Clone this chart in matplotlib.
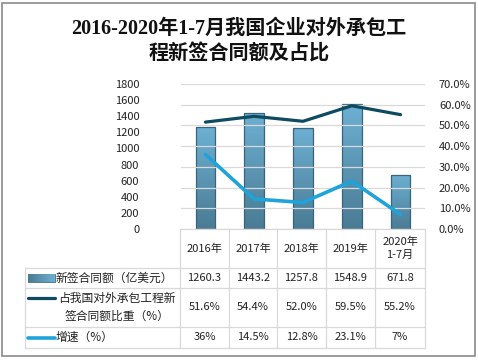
import numpy as np
import matplotlib
matplotlib.use("Agg")
import matplotlib.pyplot as plt
from matplotlib.patches import Rectangle
from matplotlib.colors import LinearSegmentedColormap

plt.rcParams['font.family'] = ['Noto Sans CJK SC', 'DejaVu Sans']

title = "2016-2020年1-7月我国企业对外承包工\n程新签合同额及占比"
categories = ["2016年", "2017年", "2018年", "2019年", "2020年\n1-7月"]
amount = [1260.3, 1443.2, 1257.8, 1548.9, 671.8]
share = [51.6, 54.4, 52.0, 59.5, 55.2]
growth = [36, 14.5, 12.8, 23.1, 7]
amount_txt = ["1260.3", "1443.2", "1257.8", "1548.9", "671.8"]
share_txt = ["51.6%", "54.4%", "52.0%", "59.5%", "55.2%"]
growth_txt = ["36%", "14.5%", "12.8%", "23.1%", "7%"]
series_names = ["新签合同额（亿美元）", "占我国对外承包工程新\n签合同额比重（%）", "增速（%）"]

W, H = 478, 360
BAR_TOP = "#6db0d3"
BAR_BOT = "#4a7b94"
BAR_EDGE = "#3a6579"
DARK = "#0e4a60"
LIGHT = "#1ea3da"
GRID = "#d9d9d9"
TXT = "#222222"

fig = plt.figure(figsize=(W / 100, H / 100), dpi=100)
bar_cmap = LinearSegmentedColormap.from_list("bar", [BAR_BOT, BAR_TOP])

# overlay for frame, title and table (pixel coords)
ov = fig.add_axes([0, 0, 1, 1])
ov.set_xlim(0, W)
ov.set_ylim(H, 0)
ov.axis("off")
ov.add_patch(Rectangle((2.5, 2.5), W - 5, H - 7, fill=False, ec="#8a8a8a", lw=1.2))
ov.text(239, 42, title, ha="center", va="center", fontsize=14.5,
        family=['Liberation Serif', 'Noto Sans CJK SC'], fontweight="bold",
        linespacing=1.35, color="#111111")

# main chart
x0, x1, y0, y1 = 181, 425, 229, 84
ax = fig.add_axes([x0 / W, 1 - y0 / H, (x1 - x0) / W, (y0 - y1) / H])
ax2 = ax.twinx()
x = np.arange(len(categories))
ax.set_xlim(-0.5, len(categories) - 0.5)
ax.set_ylim(0, 1800)
ax.set_yticks(np.arange(0, 1801, 200))
ax2.set_ylim(0, 70)
ax2.set_yticks(np.arange(0, 71, 10))
ax2.set_yticklabels([f"{v:.1f}%" for v in np.arange(0, 71, 10)])
for a in (ax, ax2):
    for s in a.spines.values():
        s.set_visible(False)
    a.tick_params(length=0, labelsize=8, colors=TXT)
ax.set_xticks([])
ax.tick_params(axis="y", pad=30)
ax2.tick_params(axis="y", pad=10)
ax2.grid(axis="y", color=GRID, lw=0.9)
ax2.set_axisbelow(True)
ax.set_zorder(ax2.get_zorder() - 1)
ax2.patch.set_visible(False)

grad = np.linspace(0, 1, 100).reshape(-1, 1)
bw = 0.4
for xi, v in zip(x, amount):
    im = ax.imshow(grad, cmap=bar_cmap, origin="lower", aspect="auto",
                   extent=(xi - bw / 2, xi + bw / 2, 0, v), zorder=2)
    r = Rectangle((xi - bw / 2, 0), bw, v, fill=False, ec=BAR_EDGE, lw=0.9, zorder=3)
    ax.add_patch(r)
    im.set_clip_path(r)
ax.set_xlim(-0.5, len(categories) - 0.5)
ax.set_ylim(0, 1800)

ax2.plot(x, share, color=DARK, lw=2.3, solid_capstyle="round", zorder=4)
ax2.plot(x, growth, color=LIGHT, lw=2.6, solid_capstyle="round", zorder=4)

# data table
cols = [180, 229, 277, 326, 375, 425]
rows = [229, 268, 288, 327, 348]
lab_x = 25
for c in cols:
    ov.plot([c, c], [rows[0], rows[-1]], color=GRID, lw=0.9)
ov.plot([lab_x, lab_x], [rows[1], rows[-1]], color=GRID, lw=0.9)
ov.plot([cols[0], cols[-1]], [rows[0], rows[0]], color=GRID, lw=0.9)
for r in rows[1:]:
    ov.plot([lab_x, cols[-1]], [r, r], color=GRID, lw=0.9)

for i, cat in enumerate(categories):
    cx = (cols[i] + cols[i + 1]) / 2
    ov.text(cx, (rows[0] + rows[1]) / 2, cat, ha="center", va="center",
            fontsize=8, color=TXT, linespacing=1.3)
    for j, vals in enumerate((amount_txt, share_txt, growth_txt)):
        ov.text(cx, (rows[j + 1] + rows[j + 2]) / 2, vals[i], ha="center",
                va="center", fontsize=8, color=TXT)

# legend keys
ky = [(rows[1] + rows[2]) / 2, 298, (rows[3] + rows[4]) / 2]
kimg = ov.imshow(np.linspace(0, 1, 50).reshape(1, -1), cmap=bar_cmap,
                 aspect="auto", extent=(28, 55, ky[0] + 4, ky[0] - 4), zorder=2)
ov.add_patch(Rectangle((28, ky[0] - 4), 27, 8, fill=False, ec=BAR_EDGE, lw=0.6))
ov.set_xlim(0, W)
ov.set_ylim(H, 0)
ov.plot([28, 55], [ky[1], ky[1]], color=DARK, lw=2.3, solid_capstyle="round")
ov.plot([28, 55], [ky[2], ky[2]], color=LIGHT, lw=2.6, solid_capstyle="round")
ov.text(56, ky[0], series_names[0], ha="left", va="center", fontsize=8.5, color=TXT)
ov.text(117, (rows[2] + rows[3]) / 2, series_names[1], ha="center", va="center",
        fontsize=8.5, color=TXT, linespacing=1.45)
ov.text(56, ky[2], series_names[2], ha="left", va="center", fontsize=8.5, color=TXT)

fig.savefig("out.png", dpi=100)
